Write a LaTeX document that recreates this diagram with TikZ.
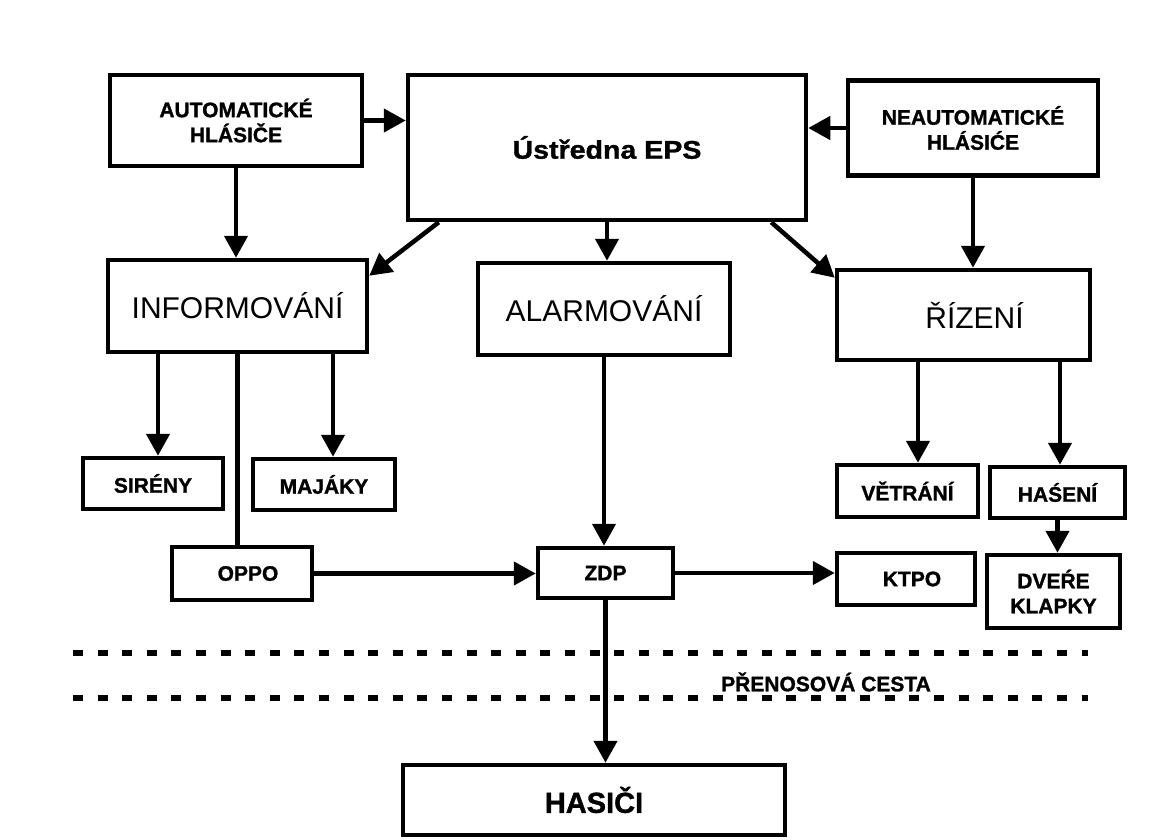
\documentclass[tikz,border=0pt]{standalone}
\usepackage{fontspec}
\usepackage{graphicx}
\setmainfont{Liberation Sans}
\newfontfamily\heavyfont[FakeBold=1.2]{Liberation Sans}
\usetikzlibrary{arrows.meta}
\tikzset{
  box/.style={draw=black, line width=4.5pt, fill=white, inner sep=0pt, align=center},
  lbl/.style={font=\fontsize{21}{25}\heavyfont\bfseries},
  big/.style={font=\fontsize{30}{34}\selectfont},
  arr/.style={line width=4.5pt, -{Triangle[length=22pt,width=23pt]}},
  plain/.style={line width=4.5pt},
  dashline/.style={line width=6pt, dash pattern=on 10pt off 14.6pt},
}
\begin{document}
\begin{tikzpicture}[x=1pt,y=-1pt]
\useasboundingbox[fill=white] (0,0) rectangle (1171,840);

% boxes
\node[box,lbl,minimum width=252,minimum height=91] (auto) at (236,120.5) {AUTOMATICKÉ\\HLÁSIČE};
\node[box,minimum width=398,minimum height=145] (eps) at (607,147.5)
  {\scalebox{1.12}[1]{\fontsize{25.5}{29}\heavyfont\bfseries Ústředna EPS}};
\node[box,lbl,minimum width=250,minimum height=95] (neauto) at (973,128) {NEAUTOMATICKÉ\\HLÁSIĆE};
\node[box,big,minimum width=259,minimum height=92] (info) at (237.5,306) {INFORMOVÁNÍ};
\node[box,big,minimum width=252,minimum height=92] (alarm) at (604,309) {ALARMOVÁNÍ};
\node[box,big,minimum width=253,minimum height=90] (rizeni) at (963.5,315) {\hspace*{22pt}ŘÍZENÍ};
\node[box,lbl,minimum width=140,minimum height=51] (sireny) at (153,483.5) {SIRÉNY};
\node[box,lbl,minimum width=142,minimum height=51] (majaky) at (324,484.5) {MAJÁKY};
\node[box,lbl,minimum width=140,minimum height=53] (oppo) at (242,573.5) {\hspace*{12pt}OPPO};
\node[box,lbl,minimum width=135,minimum height=50] (zdp) at (605.5,573) {ZDP};
\node[box,lbl,minimum width=138,minimum height=52] (ktpo) at (906,579) {\hspace*{12pt}KTPO};
\node[box,lbl,minimum width=141,minimum height=52] (vetrani) at (907.5,491) {VĚTRÁNÍ};
\node[box,lbl,minimum width=135,minimum height=51] (haseni) at (1057.5,492.5) {HAŚENÍ};
\node[box,lbl,minimum width=133,minimum height=73] (dvere) at (1053.5,591.5) {DVEŔE\\KLAPKY};
\node[box,minimum width=382,minimum height=70] (hasici) at (594,800)
  {\fontsize{29}{33}\heavyfont\bfseries HASIČI};

% transmission path
\coordinate (d1a) at (73,653);
\coordinate (d1b) at (1088,653);
\coordinate (d2a) at (73,698);
\coordinate (d2b) at (1088,698);
\draw[dashline] (d1a) -- (d1b);
\draw[dashline] (d2a) -- (d2b);
\node[lbl] (cesta) at (826,682) {PŘENOSOVÁ CESTA};

% connectors
\draw[arr] (auto.east) -- (auto.east -| eps.west);
\draw[arr] (neauto.west) -- (neauto.west -| eps.east);
\draw[arr] (auto.south) -- (auto.south |- info.north);
\draw[arr] ([xshift=33pt]eps.south west) -- ([yshift=-18pt]info.north east);
\draw[arr] (eps.south) -- (eps.south |- alarm.north);
\draw[arr] ([xshift=-37pt]eps.south east) -- ([yshift=-10pt]rizeni.north west);
\draw[arr] (neauto.south) -- (neauto.south |- rizeni.north);

\draw[arr] ([xshift=-79.5pt]info.south) -- ([xshift=-79.5pt]info.south |- sireny.north);
\draw[arr] ([xshift=95.5pt]info.south) -- ([xshift=95.5pt]info.south |- majaky.north);
\draw[plain] (info.south) -- (info.south |- oppo.north);

\draw[arr] (oppo.east) -- (oppo.east -| zdp.west);
\draw[arr] (alarm.south) -- (alarm.south |- zdp.north);
\draw[arr] (zdp.east) -- (zdp.east -| ktpo.west);
\draw[arr] (zdp.south) -- (zdp.south |- hasici.north);

\draw[arr] ([xshift=-45.5pt]rizeni.south) -- ([xshift=-45.5pt]rizeni.south |- vetrani.north);
\draw[arr] ([xshift=96.5pt]rizeni.south) -- ([xshift=96.5pt]rizeni.south |- haseni.north);
\draw[arr] (haseni.south) -- (haseni.south |- dvere.north);
\end{tikzpicture}
\end{document}
